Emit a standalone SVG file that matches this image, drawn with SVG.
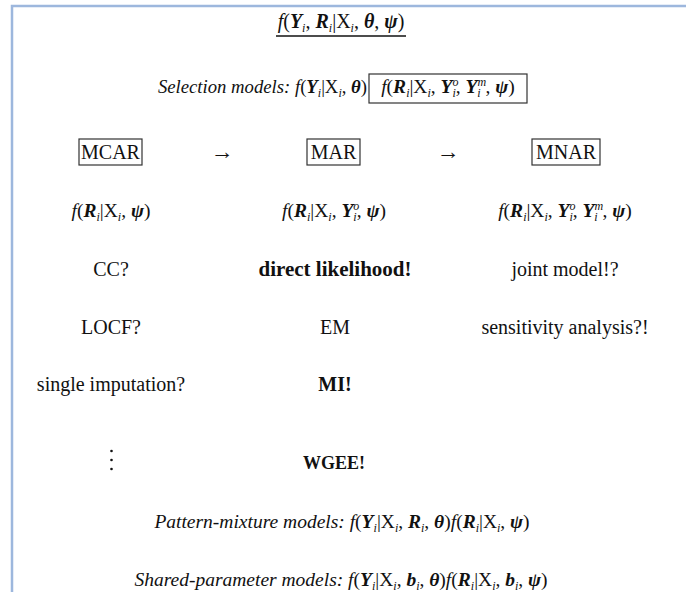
<svg xmlns="http://www.w3.org/2000/svg" width="686" height="592" viewBox="0 0 686 592">
<style>
.t{font-family:"Liberation Serif","Times New Roman",serif;font-size:20px;fill:#111}
.m{font-size:19.5px}
.it{font-style:italic}
.bi{font-weight:bold;font-style:italic}
.b{font-weight:bold}
.s{font-size:12px}
.box{fill:none;stroke:#333;stroke-width:1.2}
.frame{stroke:#9db7dd;stroke-width:2.5;fill:none}
</style>
<rect width="686" height="592" fill="#fff"/>
<path class="frame" d="M12,592 V6 H686"/>
<g id="title">
<text class="t" x="341" y="28" text-anchor="middle"><tspan class="it">f</tspan>(<tspan class="bi">Y</tspan><tspan class="s it" dy="4">i</tspan><tspan dy="-4">, </tspan><tspan class="bi">R</tspan><tspan class="s it" dy="4">i</tspan><tspan dy="-4">|X</tspan><tspan class="s it" dy="4">i</tspan><tspan dy="-4">, </tspan><tspan class="bi">θ</tspan>, <tspan class="bi">ψ</tspan>)</text>
<line x1="276" y1="36" x2="406" y2="36" stroke="#111" stroke-width="1.3"/>
</g>
<g id="selection">
<text class="t" x="367" y="93" text-anchor="end" style="font-size:18.7px"><tspan class="it">Selection models: f</tspan>(<tspan class="bi">Y</tspan><tspan class="s it" dy="4">i</tspan><tspan dy="-4">|X</tspan><tspan class="s it" dy="4">i</tspan><tspan dy="-4">, </tspan><tspan class="bi">θ</tspan>)</text>
<rect class="box" x="369" y="74" width="158" height="29"/>
<text class="t m" x="448" y="93" text-anchor="middle"><tspan class="it">f</tspan>(<tspan class="bi">R</tspan><tspan class="s it" dy="4">i</tspan><tspan dy="-4">|X</tspan><tspan class="s it" dy="4">i</tspan><tspan dy="-4">, </tspan><tspan class="bi">Y</tspan><tspan class="s it" dy="-7">o</tspan><tspan class="s it" dx="-6" dy="11">i</tspan><tspan dy="-4">, </tspan><tspan class="bi">Y</tspan><tspan class="s it" dy="-7">m</tspan><tspan class="s it" dx="-9" dy="11">i</tspan><tspan dy="-4" dx="5">, </tspan><tspan class="bi">ψ</tspan>)</text>
</g>
<g id="mcar">
<rect class="box" x="79" y="139" width="63" height="26"/>
<text class="t" x="110.5" y="159" text-anchor="middle">MCAR</text>
</g>
<g id="mar">
<rect class="box" x="307" y="139" width="53" height="26"/>
<text class="t" x="333.5" y="159" text-anchor="middle">MAR</text>
</g>
<g id="mnar">
<rect class="box" x="532" y="139" width="68" height="26"/>
<text class="t" x="566" y="159" text-anchor="middle">MNAR</text>
</g>
<g id="connectors">
<text class="t" x="222" y="159" text-anchor="middle" style="font-size:23px">→</text>
<text class="t" x="448" y="159" text-anchor="middle" style="font-size:23px">→</text>
</g>
<g id="col1">
<text class="t m" x="111" y="217" text-anchor="middle"><tspan class="it">f</tspan>(<tspan class="bi">R</tspan><tspan class="s it" dy="4">i</tspan><tspan dy="-4">|X</tspan><tspan class="s it" dy="4">i</tspan><tspan dy="-4">, </tspan><tspan class="bi">ψ</tspan>)</text>
<text class="t" x="111" y="276" text-anchor="middle">CC?</text>
<text class="t" x="111" y="334" text-anchor="middle">LOCF?</text>
<text class="t" x="111" y="391" text-anchor="middle">single imputation?</text>
<circle cx="111.5" cy="451" r="1.3" fill="#111"/>
<circle cx="111.5" cy="460" r="1.3" fill="#111"/>
<circle cx="111.5" cy="469" r="1.3" fill="#111"/>
</g>
<g id="col2">
<text class="t m" x="334" y="217" text-anchor="middle"><tspan class="it">f</tspan>(<tspan class="bi">R</tspan><tspan class="s it" dy="4">i</tspan><tspan dy="-4">|X</tspan><tspan class="s it" dy="4">i</tspan><tspan dy="-4">, </tspan><tspan class="bi">Y</tspan><tspan class="s it" dy="-7">o</tspan><tspan class="s it" dx="-6" dy="11">i</tspan><tspan dy="-4">, </tspan><tspan class="bi">ψ</tspan>)</text>
<text class="t b" x="335" y="276" text-anchor="middle" style="font-size:21px">direct likelihood!</text>
<text class="t" x="335" y="334" text-anchor="middle">EM</text>
<text class="t b" x="335" y="391" text-anchor="middle">MI!</text>
<text class="t b" x="334" y="469" text-anchor="middle" style="font-size:18px">WGEE!</text>
</g>
<g id="col3">
<text class="t m" x="565" y="217" text-anchor="middle"><tspan class="it">f</tspan>(<tspan class="bi">R</tspan><tspan class="s it" dy="4">i</tspan><tspan dy="-4">|X</tspan><tspan class="s it" dy="4">i</tspan><tspan dy="-4">, </tspan><tspan class="bi">Y</tspan><tspan class="s it" dy="-7">o</tspan><tspan class="s it" dx="-6" dy="11">i</tspan><tspan dy="-4">, </tspan><tspan class="bi">Y</tspan><tspan class="s it" dy="-7">m</tspan><tspan class="s it" dx="-9" dy="11">i</tspan><tspan dy="-4" dx="5">, </tspan><tspan class="bi">ψ</tspan>)</text>
<text class="t" x="565" y="276" text-anchor="middle">joint model!?</text>
<text class="t" x="565" y="334" text-anchor="middle">sensitivity analysis?!</text>
</g>
<g id="pattern">
<text class="t m" x="342" y="528" text-anchor="middle"><tspan class="it">Pattern-mixture models: f</tspan>(<tspan class="bi">Y</tspan><tspan class="s it" dy="4">i</tspan><tspan dy="-4">|X</tspan><tspan class="s it" dy="4">i</tspan><tspan dy="-4">, </tspan><tspan class="bi">R</tspan><tspan class="s it" dy="4">i</tspan><tspan dy="-4">, </tspan><tspan class="bi">θ</tspan>)<tspan class="it">f</tspan>(<tspan class="bi">R</tspan><tspan class="s it" dy="4">i</tspan><tspan dy="-4">|X</tspan><tspan class="s it" dy="4">i</tspan><tspan dy="-4">, </tspan><tspan class="bi">ψ</tspan>)</text>
</g>
<g id="shared">
<text class="t m" x="341" y="586" text-anchor="middle"><tspan class="it">Shared-parameter models: f</tspan>(<tspan class="bi">Y</tspan><tspan class="s it" dy="4">i</tspan><tspan dy="-4">|X</tspan><tspan class="s it" dy="4">i</tspan><tspan dy="-4">, </tspan><tspan class="bi">b</tspan><tspan class="s it" dy="4">i</tspan><tspan dy="-4">, </tspan><tspan class="bi">θ</tspan>)<tspan class="it">f</tspan>(<tspan class="bi">R</tspan><tspan class="s it" dy="4">i</tspan><tspan dy="-4">|X</tspan><tspan class="s it" dy="4">i</tspan><tspan dy="-4">, </tspan><tspan class="bi">b</tspan><tspan class="s it" dy="4">i</tspan><tspan dy="-4">, </tspan><tspan class="bi">ψ</tspan>)</text>
</g>
</svg>
